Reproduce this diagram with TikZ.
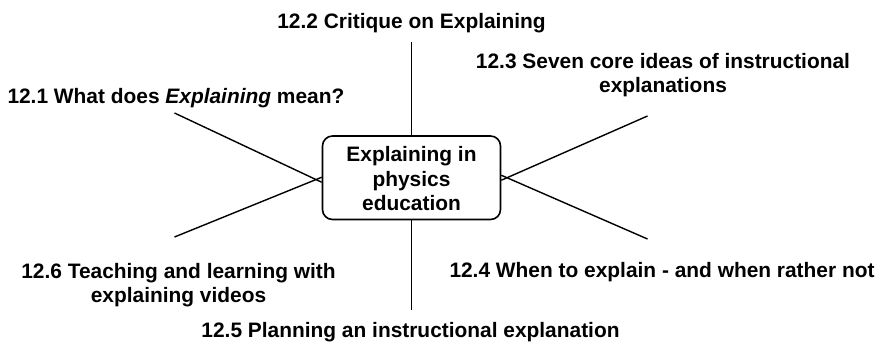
\documentclass[tikz,border=0pt]{standalone}
\usepackage{fontspec}
\setmainfont{Liberation Sans}
\begin{document}
\begin{tikzpicture}[x=1pt,y=-1pt,
  lbl/.style={font=\fontsize{20.9}{24.4}\selectfont\bfseries, inner sep=0pt, anchor=base},
  spoke/.style={line width=1.4pt, black},
  hub/.style={draw, line width=1.6pt, rounded corners=10pt, minimum width=178pt, minimum height=83.5pt, inner sep=0pt}]
\useasboundingbox (0,0) rectangle (883,348);
% central box
\node[hub] (hub) at (411.5,177.75) {};
\node[lbl] (h1) at (411.5,161.7) {Explaining in};
\node[lbl] (h2) at (411.5,186) {physics};
\node[lbl] (h3) at (411.5,210.2) {education};
% labels
\node[lbl] (t2) at (411.5,28.3) {12.2 Critique on Explaining};
\node[lbl] (t3a) at (663,68.3) {12.3 Seven core ideas of instructional};
\node[lbl] (t3b) at (663,92.8) {explanations};
\node[lbl, anchor=base west] (t1) at (7.3,103.3) {12.1 What does \textit{Explaining} mean?};
\node[lbl] (t6a) at (178.5,278.3) {12.6 Teaching and learning with};
\node[lbl] (t6b) at (178.5,302.5) {explaining videos};
\node[lbl, anchor=base west] (t4) at (449.3,277.5) {12.4 When to explain - and when rather not};
\node[lbl] (t5) at (410.5,337) {12.5 Planning an instructional explanation};
% spoke ends
\coordinate (eN) at (411.5,42);
\coordinate (eS) at (411.5,310);
\coordinate (eNW) at (174.5,113);
\coordinate (eSW) at (174.5,237);
\coordinate (eNE) at (647.5,116);
\coordinate (eSE) at (647.5,239);
% spokes
\draw[spoke] (hub.north) -- (eN);
\draw[spoke] (hub.south) -- (eS);
\draw[spoke] ([yshift=-4.5pt]hub.west) -- (eNW);
\draw[spoke] ([yshift=0.5pt]hub.west) -- (eSW);
\draw[spoke] ([yshift=-2.5pt]hub.east) -- (eNE);
\draw[spoke] ([yshift=2.5pt]hub.east) -- (eSE);
\end{tikzpicture}
\end{document}
